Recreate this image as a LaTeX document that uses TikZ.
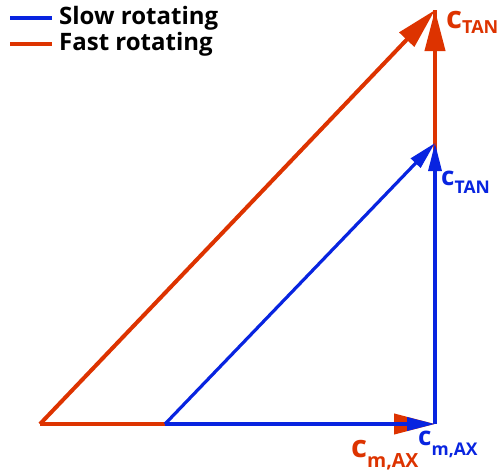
\documentclass[tikz,border=0pt]{standalone}
\usepackage{fontspec}
\setmainfont{Open Sans}
\usetikzlibrary{arrows.meta}
\definecolor{slowblue}{RGB}{8,36,224}
\definecolor{fastred}{RGB}{221,51,0}
\newcommand{\cvec}[4]{{\fontsize{#1}{#1}\selectfont c}\raisebox{-#3}{\fontsize{#2}{#2}\selectfont #4}}
\tikzset{
  fast/.style={draw=fastred, line width=4pt},
  slow/.style={draw=slowblue, line width=3.2pt},
  fasttip/.style={-{Triangle[length=41pt,width=20pt]}},
  slowtip/.style={-{Triangle[length=28pt,width=13pt]}},
  legendtext/.style={anchor=west, inner sep=0pt, font=\bfseries\fontsize{24}{24}\selectfont},
  veclabel/.style={anchor=base west, inner sep=0pt, font=\bfseries}
}

\begin{document}
\begin{tikzpicture}[x=1pt,y=-1pt]
  \useasboundingbox (0,0) rectangle (502,474);
  % corners of the two triangles
  \coordinate (fastO) at (40,424);
  \coordinate (slowO) at (165,424);
  \coordinate (axend) at (435,424);
  \coordinate (slowtop) at (435,143);
  \coordinate (fasttop) at (435,10);
  % fast rotating
  \draw[fast] (axend) -- (fasttop);
  \draw[fast,fasttip] (fastO) -- (axend);
  \draw[fast,fasttip] (slowtop) -- (fasttop);
  \draw[fast,fasttip] (fastO) -- (fasttop);
  % slow rotating
  \draw[slow,slowtip] (slowO) -- (axend);
  \draw[slow,slowtip] (axend) -- (slowtop);
  \draw[slow,slowtip] (slowO) -- (slowtop);
  % labels
  \node[veclabel, text=fastred] (ctanfast) at (446,28) {\cvec{31}{18}{5pt}{TAN}};
  \node[veclabel, text=slowblue] (ctanslow) at (441,185) {\cvec{26}{17.5}{8pt}{TAN}};
  \node[veclabel, text=fastred] (caxfast) at (351,457) {\cvec{31}{19.5}{10pt}{m,AX}};
  \node[veclabel, text=slowblue] (caxslow) at (418,445) {\cvec{26}{17.5}{10pt}{m,AX}};
  % legend
  \coordinate (slowA) at (10,18);
  \coordinate (slowB) at (52,18);
  \coordinate (fastA) at (10,44);
  \coordinate (fastB) at (52,44);
  \draw[slow, line width=4pt] (slowA) -- (slowB);
  \draw[fast] (fastA) -- (fastB);
  \node[legendtext] (slowtxt) at (59,18) {Slow rotating};
  \node[legendtext] (fasttxt) at (59,44) {Fast rotating};
\end{tikzpicture}
\end{document}
